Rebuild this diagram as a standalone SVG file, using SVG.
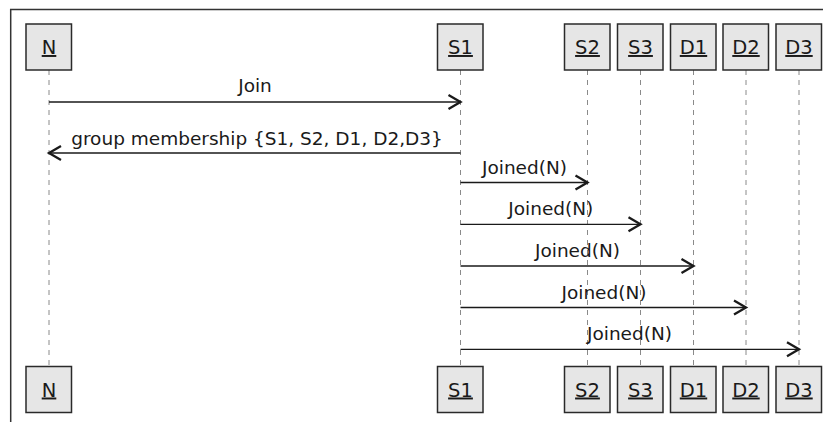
<svg xmlns="http://www.w3.org/2000/svg" width="823" height="422" viewBox="0 0 823 422">
  <defs>
    <style>
      .frame { fill: none; stroke: #333; stroke-width: 1.5; }
      .box { fill: #e6e6e6; stroke: #2a2a2a; stroke-width: 1.5; }
      .blabel { font-family: "DejaVu Sans", sans-serif; font-size: 19.5px; fill: #1a1a1a; text-anchor: middle; text-decoration: underline; }
      .life { stroke: #8a8a8a; stroke-width: 1; stroke-dasharray: 5 5; fill: none; }
      .msg { stroke: #1a1a1a; stroke-width: 1.3; fill: none; marker-end: url(#arrow); }
      .mlabel { font-family: "DejaVu Sans", sans-serif; font-size: 18.5px; fill: #1a1a1a; text-anchor: middle; }
    </style>
    <marker id="arrow" markerUnits="userSpaceOnUse" markerWidth="16" markerHeight="18" refX="13" refY="8" orient="auto" overflow="visible">
      <path d="M1,1 L13,8 L1,15" fill="none" stroke="#1a1a1a" stroke-width="2.3"/>
    </marker>
  </defs>

  <path class="frame" d="M10.7,423 L10.7,9.5 L824,9.5"/>

  <g id="lifelines">
    <line class="life" x1="49" y1="70" x2="49" y2="366.5"/>
    <line class="life" x1="460.5" y1="70" x2="460.5" y2="366.5"/>
    <line class="life" x1="587.5" y1="70" x2="587.5" y2="366.5"/>
    <line class="life" x1="640.5" y1="70" x2="640.5" y2="366.5"/>
    <line class="life" x1="693.5" y1="70" x2="693.5" y2="366.5"/>
    <line class="life" x1="746" y1="70" x2="746" y2="366.5"/>
    <line class="life" x1="799" y1="70" x2="799" y2="366.5"/>
  </g>

  <g id="node-N">
    <rect class="box" x="26" y="24" width="45.5" height="46"/>
    <text class="blabel" x="49" y="54">N</text>
    <rect class="box" x="26" y="366.5" width="45.5" height="46"/>
    <text class="blabel" x="49" y="396.5">N</text>
  </g>
  <g id="node-S1">
    <rect class="box" x="437.5" y="24" width="45.5" height="46"/>
    <text class="blabel" x="460.5" y="54">S1</text>
    <rect class="box" x="437.5" y="366.5" width="45.5" height="46"/>
    <text class="blabel" x="460.5" y="396.5">S1</text>
  </g>
  <g id="node-S2">
    <rect class="box" x="564.5" y="24" width="45.5" height="46"/>
    <text class="blabel" x="587.5" y="54">S2</text>
    <rect class="box" x="564.5" y="366.5" width="45.5" height="46"/>
    <text class="blabel" x="587.5" y="396.5">S2</text>
  </g>
  <g id="node-S3">
    <rect class="box" x="617.5" y="24" width="45.5" height="46"/>
    <text class="blabel" x="640.5" y="54">S3</text>
    <rect class="box" x="617.5" y="366.5" width="45.5" height="46"/>
    <text class="blabel" x="640.5" y="396.5">S3</text>
  </g>
  <g id="node-D1">
    <rect class="box" x="670.5" y="24" width="45.5" height="46"/>
    <text class="blabel" x="693.5" y="54">D1</text>
    <rect class="box" x="670.5" y="366.5" width="45.5" height="46"/>
    <text class="blabel" x="693.5" y="396.5">D1</text>
  </g>
  <g id="node-D2">
    <rect class="box" x="723" y="24" width="45.5" height="46"/>
    <text class="blabel" x="746" y="54">D2</text>
    <rect class="box" x="723" y="366.5" width="45.5" height="46"/>
    <text class="blabel" x="746" y="396.5">D2</text>
  </g>
  <g id="node-D3">
    <rect class="box" x="776" y="24" width="45.5" height="46"/>
    <text class="blabel" x="799" y="54">D3</text>
    <rect class="box" x="776" y="366.5" width="45.5" height="46"/>
    <text class="blabel" x="799" y="396.5">D3</text>
  </g>

  <g id="connectors">
    <line class="msg" x1="49" y1="102" x2="460.5" y2="102"/>
    <text class="mlabel" x="255" y="92">Join</text>

    <line class="msg" x1="460.5" y1="153" x2="49" y2="153"/>
    <text class="mlabel" x="257" y="145">group membership {S1, S2, D1, D2,D3}</text>

    <line class="msg" x1="460.5" y1="182.5" x2="587.5" y2="182.5"/>
    <text class="mlabel" x="524.5" y="173.5">Joined(N)</text>

    <line class="msg" x1="460.5" y1="224.3" x2="640.5" y2="224.3"/>
    <text class="mlabel" x="550.8" y="215.3">Joined(N)</text>

    <line class="msg" x1="460.5" y1="266" x2="693.5" y2="266"/>
    <text class="mlabel" x="577.5" y="257">Joined(N)</text>

    <line class="msg" x1="460.5" y1="307.5" x2="746" y2="307.5"/>
    <text class="mlabel" x="604" y="298.5">Joined(N)</text>

    <line class="msg" x1="460.5" y1="349.3" x2="799" y2="349.3"/>
    <text class="mlabel" x="629.5" y="340.3">Joined(N)</text>
  </g>
</svg>
